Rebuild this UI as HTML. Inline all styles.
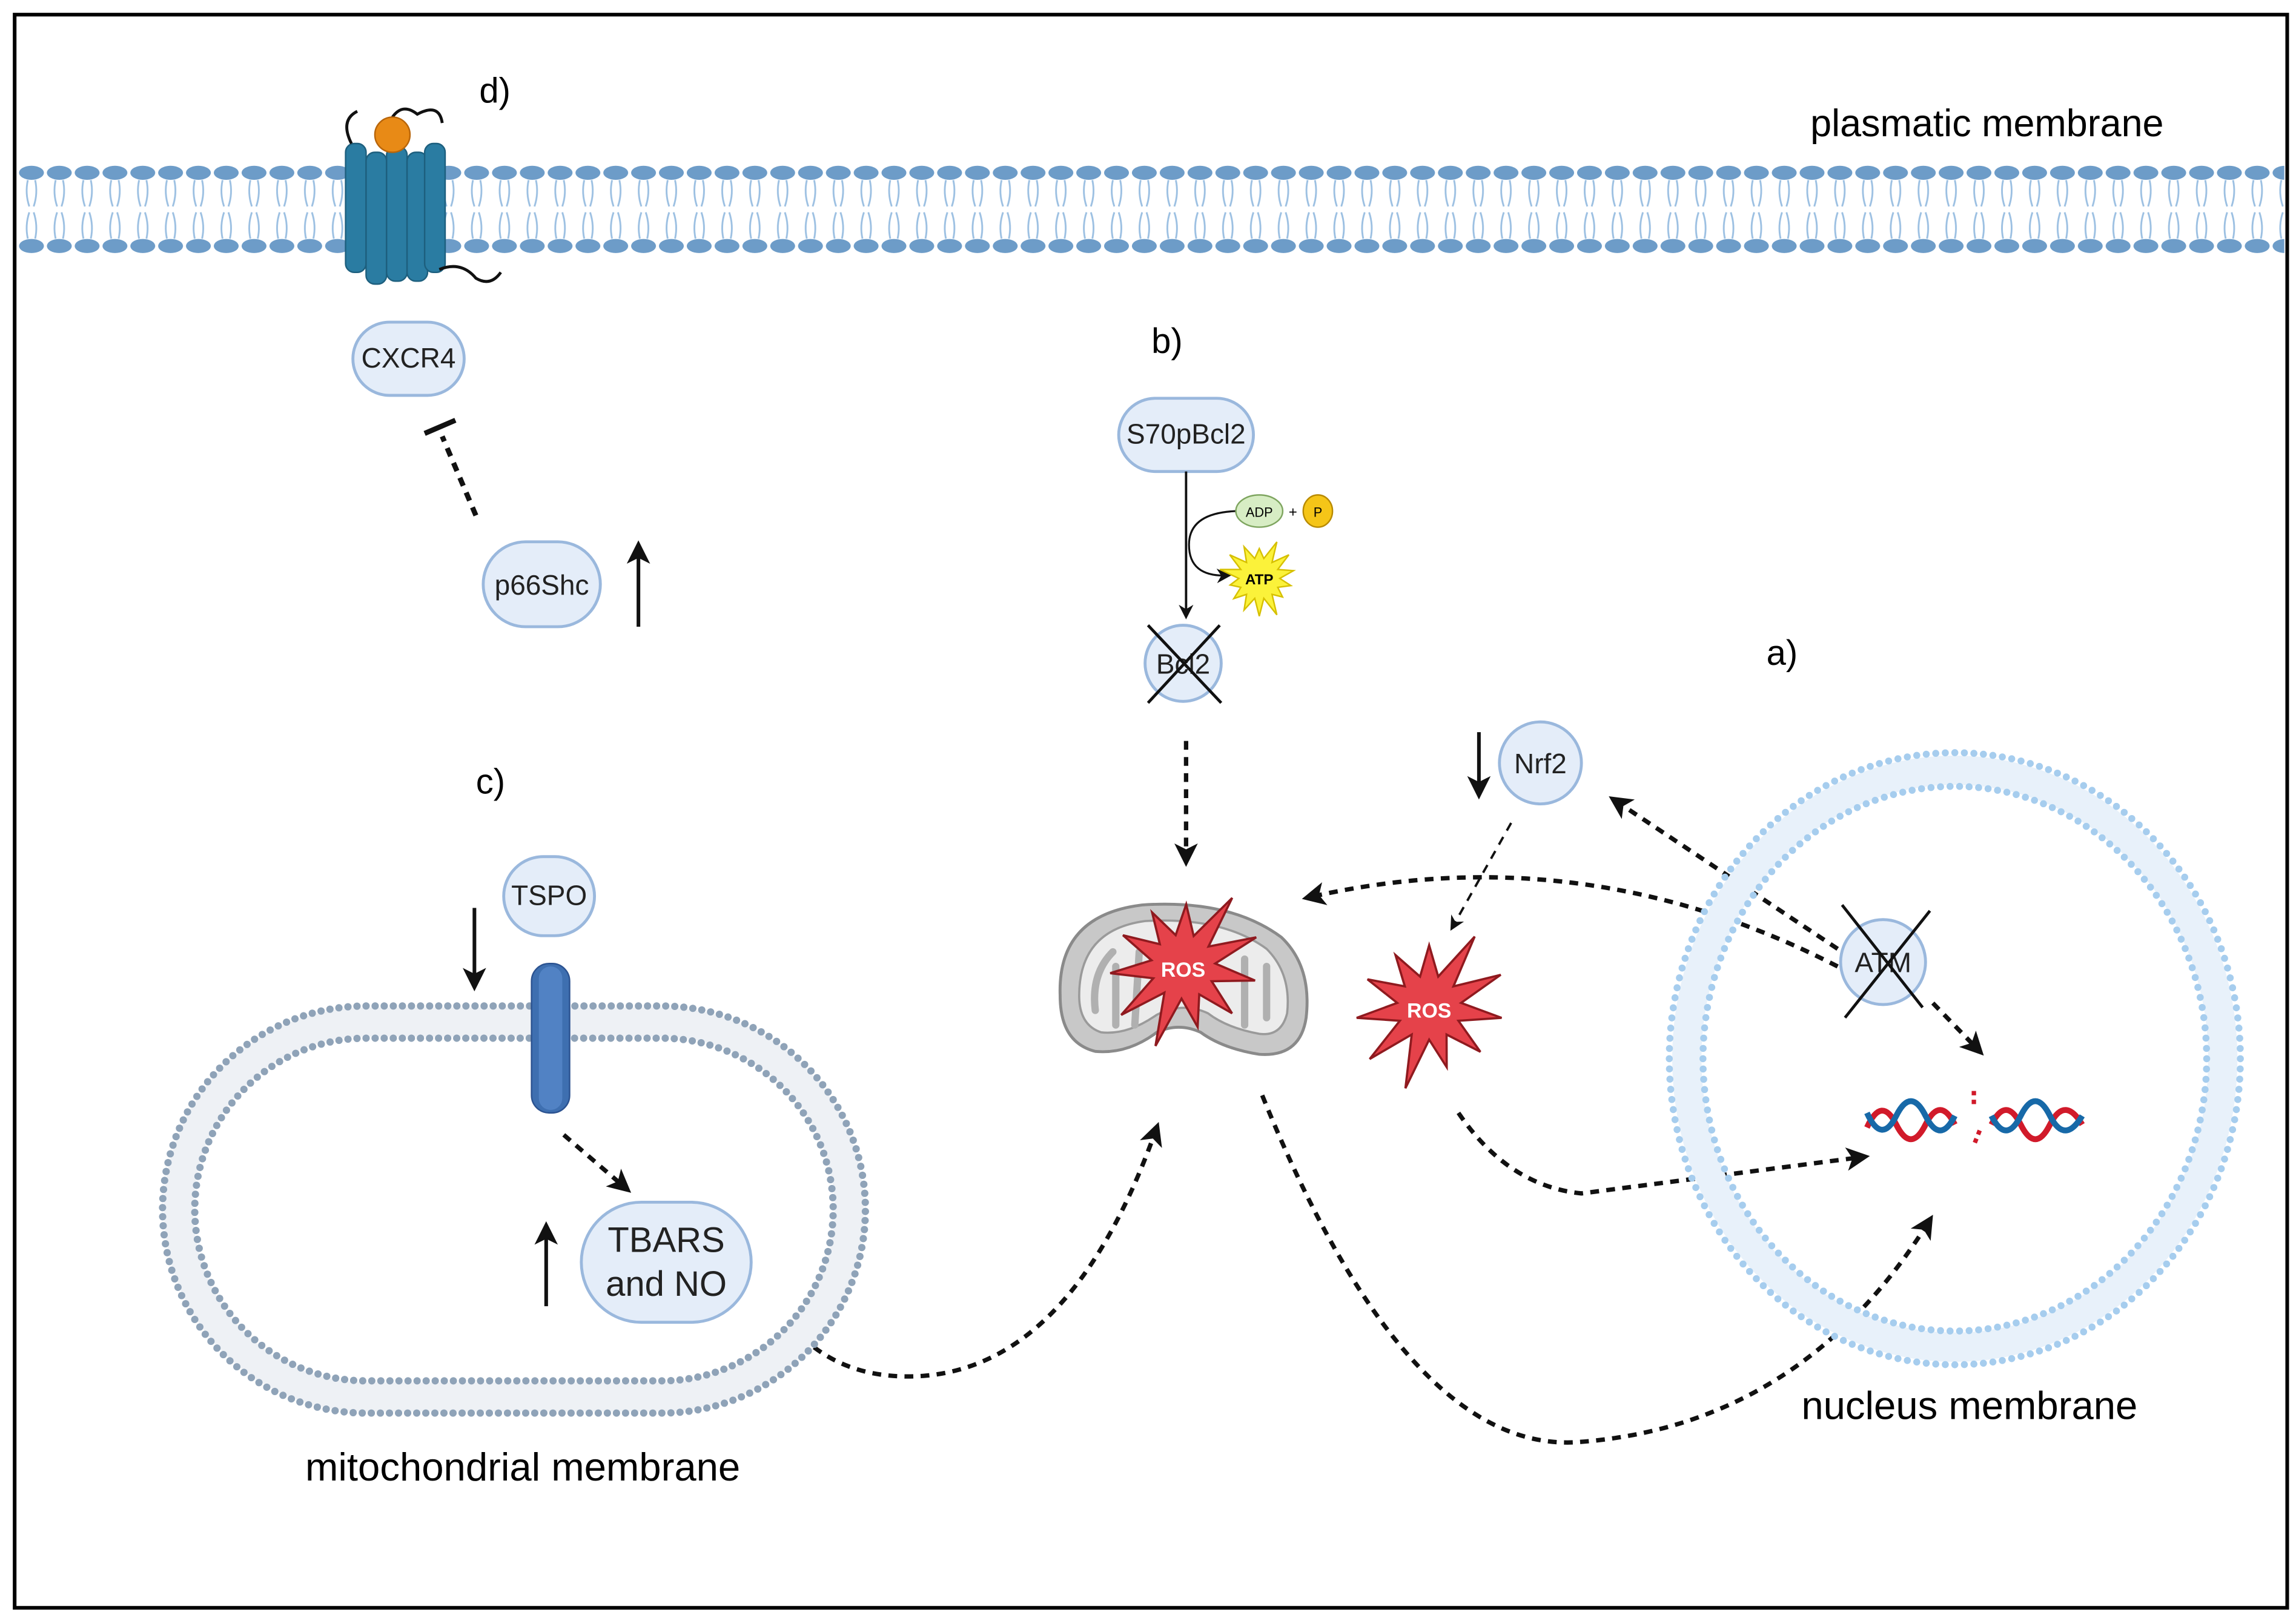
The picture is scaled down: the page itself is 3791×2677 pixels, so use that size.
<!DOCTYPE html>
<html><head><meta charset="utf-8">
<style>
html,body{margin:0;padding:0;background:#fff;}
svg{display:block;}
text{font-family:"Liberation Sans",sans-serif;}
</style></head>
<body>
<svg id="s" width="3791" height="2677" viewBox="0 0 1568 1107" preserveAspectRatio="none" xmlns="http://www.w3.org/2000/svg">
<defs>
<pattern id="mem" x="12" y="0" width="19" height="1107" patternUnits="userSpaceOnUse">
  <ellipse cx="9.5" cy="118" rx="8.5" ry="4.8" fill="#6d9cc8"/>
  <ellipse cx="9.5" cy="168" rx="8.5" ry="4.8" fill="#6d9cc8"/>
  <path d="M7 123 Q5 132 8 141 M12 123 Q14 132 11 141 M7 163 Q5 154 8 145 M12 163 Q14 154 11 145" stroke="#9cc0e2" stroke-width="1.2" fill="none"/>
</pattern>
<marker id="ah" markerWidth="10" markerHeight="10" refX="7" refY="5" orient="auto" markerUnits="userSpaceOnUse">
  <path d="M0 0 L10 5 L0 10 L3 5 Z" fill="#111"/>
</marker>
<marker id="ah2" markerWidth="16" markerHeight="16" refX="12" refY="8" orient="auto" markerUnits="userSpaceOnUse">
  <path d="M0 0 L16 8 L0 16 L4 8 Z" fill="#111"/>
</marker>
</defs>
<rect x="0" y="0" width="1568" height="1107" fill="#fff"/>
<rect x="10" y="10" width="1552" height="1088" fill="none" stroke="#000" stroke-width="2.5"/>

<rect x="12" y="110" width="1548" height="66" fill="url(#mem)"/>

<g fill="#2a7ca2" stroke="#1d5f7e" stroke-width="1">
  <rect x="236" y="98" width="14" height="88" rx="6"/>
  <rect x="250" y="104" width="14" height="90" rx="6"/>
  <rect x="264" y="100" width="14" height="92" rx="6"/>
  <rect x="278" y="104" width="14" height="88" rx="6"/>
  <rect x="290" y="98" width="14" height="88" rx="6"/>
</g>
<path d="M268 80 Q275 70 285 78 Q300 70 302 84 M300 184 Q315 178 325 190 Q335 196 342 186 M240 98 Q232 82 244 76" stroke="#111" stroke-width="2" fill="none"/>
<circle cx="268" cy="92" r="12" fill="#e88a16" stroke="#b8650a"/>
<text x="338" y="70" font-size="24" text-anchor="middle">d)</text>
<text x="1357" y="93" font-size="26" text-anchor="middle">plasmatic membrane</text>

<g fill="#e4edf9" stroke="#9ab8dd" stroke-width="2">
  <rect x="241" y="220" width="76" height="50" rx="25"/>
  <rect x="330" y="370" width="80" height="58" rx="29"/>
  <rect x="764" y="272" width="92" height="50" rx="25"/>
  <circle cx="808" cy="453" r="26"/>
  <circle cx="1052" cy="521" r="28"/>
  <circle cx="1286" cy="657" r="29"/>
  <rect x="344" y="585" width="62" height="54" rx="27"/>
  <rect x="397" y="821" width="116" height="82" rx="41"/>
</g>
<g font-size="19" text-anchor="middle" fill="#222">
  <text x="279" y="251">CXCR4</text>
  <text x="370" y="406">p66Shc</text>
  <text x="810" y="303">S70pBcl2</text>
  <text x="808" y="460">Bcl2</text>
  <text x="1052" y="528">Nrf2</text>
  <text x="1286" y="664">ATM</text>
  <text x="375" y="618">TSPO</text>
  <text x="455" y="855" font-size="24">TBARS</text>
  <text x="455" y="885" font-size="24">and NO</text>
</g>
<path d="M784 427 L834 480 M833 427 L784 480" stroke="#111" stroke-width="2"/>
<path d="M1258 618 L1313 688 M1318 622 L1260 695" stroke="#111" stroke-width="2"/>

<path d="M325 352 L302 298" stroke="#111" stroke-width="3.5" stroke-dasharray="6 5"/>
<path d="M290 296 L311 287" stroke="#111" stroke-width="3.5"/>
<g stroke="#111" stroke-width="2.5" marker-end="url(#ah2)">
  <line x1="436" y1="428" x2="436" y2="373"/>
  <line x1="1010" y1="500" x2="1010" y2="542"/>
  <line x1="324" y1="620" x2="324" y2="673"/>
  <line x1="373" y1="892" x2="373" y2="838"/>
</g>

<text x="797" y="241" font-size="24" text-anchor="middle">b)</text>
<line x1="810" y1="322" x2="810" y2="420" stroke="#111" stroke-width="1.6" marker-end="url(#ah)"/>
<path d="M845 349 Q812 350 812 372 Q812 394 838 393" stroke="#111" stroke-width="1.3" fill="none" marker-end="url(#ah)"/>
<ellipse cx="860" cy="349" rx="16" ry="11" fill="#d7edc4" stroke="#7ea55f"/>
<text x="860" y="353" font-size="9" text-anchor="middle">ADP</text>
<text x="883" y="353" font-size="10" text-anchor="middle">+</text>
<ellipse cx="900" cy="349" rx="10" ry="11" fill="#f5c518" stroke="#b88a00"/>
<text x="900" y="353" font-size="9" text-anchor="middle">P</text>
<polygon id="atp" fill="#fbf23a" stroke="#d6c000" stroke-width="1" points=""/>
<text x="860" y="399" font-size="10" font-weight="bold" text-anchor="middle">ATP</text>

<g stroke="#111" stroke-width="3" stroke-dasharray="6 5" fill="none" marker-end="url(#ah2)">
  <line x1="810" y1="506" x2="810" y2="588"/>
  <path d="M1255 660 Q1080 570 893 613"/>
  <line x1="1255" y1="648" x2="1102" y2="546"/>
  <line x1="1320" y1="685" x2="1352" y2="718"/>
  <path d="M996 760 Q1030 810 1080 815 L1273 790"/>
  <path d="M862 748 Q960 990 1075 985 Q1230 975 1318 833"/>
  <path d="M540 905 Q570 940 620 940 Q730 940 790 770"/>
  <line x1="385" y1="775" x2="428" y2="812"/>
</g>
<line x1="1032" y1="562" x2="992" y2="633" stroke="#111" stroke-width="1.6" stroke-dasharray="6 5" marker-end="url(#ah)"/>

<path d="M724 680 Q722 625 780 618 Q840 614 875 640 Q896 660 892 695 Q888 722 860 720 Q835 716 820 705 Q805 698 790 705 Q770 720 748 718 Q724 712 724 680 Z" fill="#c8c8c8" stroke="#8a8a8a" stroke-width="2"/>
<path d="M737 680 Q737 635 782 629 Q835 626 865 648 Q882 665 879 692 Q875 708 860 706 Q838 702 825 692 Q808 684 790 693 Q770 707 752 705 Q737 700 737 680 Z" fill="#ececec" stroke="#9a9a9a" stroke-width="1.5"/>
<path d="M748 690 Q745 665 760 650 M762 700 L762 660 M775 700 L778 650 M850 700 L850 655 M865 695 L865 660" stroke="#b0b0b0" stroke-width="5" fill="none" stroke-linecap="round"/>
<polygon id="ros1" fill="#e5424a" stroke="#8f1a1f" stroke-width="1.5" points=""/>
<text x="808" y="667" font-size="14" font-weight="bold" fill="#fff" text-anchor="middle">ROS</text>
<polygon id="ros2" fill="#e5424a" stroke="#8f1a1f" stroke-width="1.5" points=""/>
<text x="976" y="695" font-size="14" font-weight="bold" fill="#fff" text-anchor="middle">ROS</text>

<g id="nuc"></g>
<text x="1217" y="454" font-size="24" text-anchor="middle">a)</text>
<text x="1345" y="969" font-size="27" text-anchor="middle">nucleus membrane</text>
<path d="M1275 770 Q1285 748 1295 768 Q1305 788 1315 768 Q1325 748 1335 768 M1360 768 Q1370 748 1380 768 Q1390 788 1400 768 Q1410 748 1422 768" stroke="#d11a2a" stroke-width="4" fill="none"/>
<path d="M1275 760 Q1285 782 1295 762 Q1305 742 1315 762 Q1325 782 1335 762 M1360 762 Q1370 782 1380 762 Q1390 742 1400 762 Q1410 782 1422 762" stroke="#1769a8" stroke-width="4" fill="none"/>
<path d="M1348 745 L1348 755 M1352 772 L1348 782" stroke="#d11a2a" stroke-width="3" stroke-dasharray="3 3"/>

<g id="mito"></g>
<text x="335" y="542" font-size="24" text-anchor="middle">c)</text>
<text x="357" y="1011" font-size="27" text-anchor="middle">mitochondrial membrane</text>
<rect x="363" y="658" width="26" height="102" rx="12" fill="#3e6fb0" stroke="#2b5290"/>
<rect x="368" y="660" width="16" height="98" rx="8" fill="#5182c4"/>
</svg>
<script>
function star(id,cx,cy,n,r1,r2,rot){var p=[];for(var i=0;i<2*n;i++){var r=i%2?r2:r1;r*= (i%2?1:(0.85+0.3*((i*7)%5)/4));var a=rot+Math.PI*i/n;p.push((cx+r*Math.sin(a)).toFixed(1)+","+(cy-r*Math.cos(a)).toFixed(1));}document.getElementById(id).setAttribute("points",p.join(" "));}
star("ros1",808,660,11,50,22,0.05);
star("ros2",976,688,11,50,22,0);
star("atp",860,395,14,24,14,0);
var ns="http://www.w3.org/2000/svg";
function el(t,a,g){var e=document.createElementNS(ns,t);for(var k in a)e.setAttribute(k,a[k]);g.appendChild(e);return e;}
var g=document.getElementById("nuc");
el("ellipse",{cx:1335,cy:723,rx:183,ry:197,fill:"none",stroke:"#e8f1fa","stroke-width":20},g);
[[1335,723,195,209],[1335,723,172,186]].forEach(function(r){var N=Math.round(2*Math.PI*r[2]/6.5);for(var i=0;i<N;i++){var a=2*Math.PI*i/N;el("circle",{cx:r[0]+r[2]*Math.cos(a),cy:r[1]+r[3]*Math.sin(a),r:2.4,fill:"#a6cdee"},g);}});
var m=document.getElementById("mito");
function stad(x1,x2,yc,R,step,fn){var L=x2-x1;var per=2*L+2*Math.PI*R;var N=Math.round(per/step);for(var i=0;i<N;i++){var s=per*i/N,x,y;if(s<L){x=x1+s;y=yc-R;}else if(s<L+Math.PI*R){var a=(s-L)/R;x=x2+R*Math.sin(a);y=yc-R*Math.cos(a);}else if(s<2*L+Math.PI*R){x=x2-(s-L-Math.PI*R);y=yc+R;}else{var a=(s-2*L-Math.PI*R)/R;x=x1-R*Math.sin(a);y=yc+R*Math.cos(a);}fn(x,y);}}
el("path",{d:"M250 698 H452 A128 128 0 0 1 452 954 H250 A128 128 0 0 1 250 698 Z",fill:"none",stroke:"#eef1f5","stroke-width":20},m);
stad(250,452,826,139,6.2,function(x,y){el("circle",{cx:x,cy:y,r:2.5,fill:"#8fa3b8"},m);});
stad(250,452,826,117,6.2,function(x,y){el("circle",{cx:x,cy:y,r:2.5,fill:"#8fa3b8"},m);});
</script>
</body></html>
